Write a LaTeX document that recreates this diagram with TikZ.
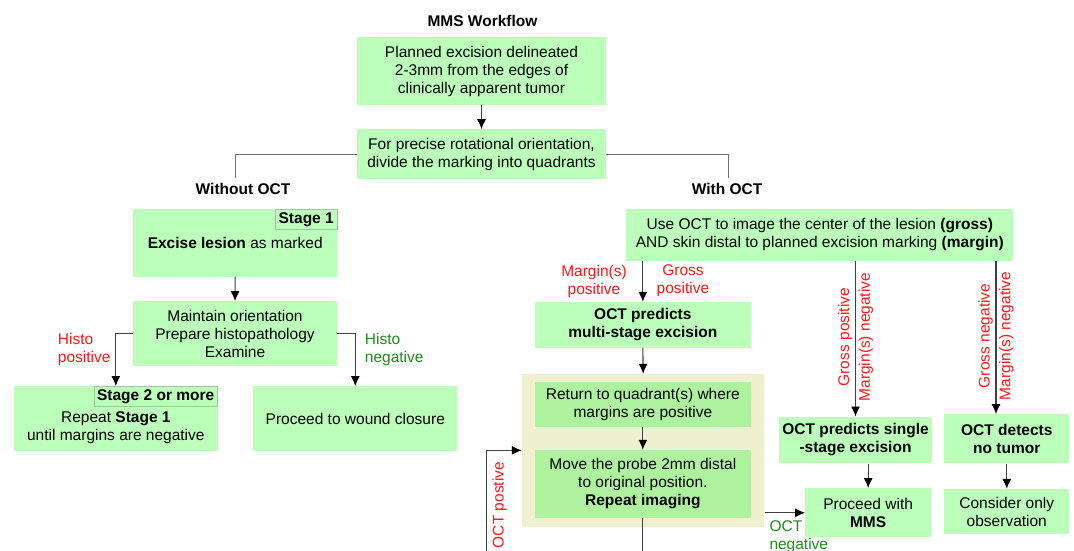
\documentclass[tikz,border=0pt]{standalone}
\usepackage{fontspec}
\setmainfont{Liberation Sans}
\definecolor{VertClairMMS}{HTML}{BBFFBB}
\definecolor{VertMoyenMMS}{HTML}{AEF2A0}
\definecolor{BeigeMMS}{HTML}{EFF0CF}
\definecolor{BordEtapeMMS}{HTML}{9FC79F}
\definecolor{RougeMMS}{HTML}{FF1A1A}
\definecolor{VertFonceMMS}{HTML}{1E8C1E}
\definecolor{GrisTraitMMS}{HTML}{707070}
\usetikzlibrary{arrows.meta}
\usetikzlibrary{calc}
\newcommand{\tailleMMS}{\fontsize{15.5}{18}\selectfont}
\tikzset{
	boite/.style={fill=VertClairMMS, align=center, inner sep=0pt},
	boiteint/.style={fill=VertMoyenMMS, align=center, inner sep=0pt},
	etape/.style={fill=VertClairMMS, draw=BordEtapeMMS, line width=1pt, inner sep=0pt, anchor=north east},
	fleche/.style={->, >={Latex[length=10pt,width=9pt,color=black]}, line width=1.1pt, black!75},
	trait/.style={line width=1pt, GrisTraitMMS},
	rouge/.style={RougeMMS, align=center, inner sep=2.5pt},
	vert/.style={VertFonceMMS, align=left, inner sep=0pt}
}

\begin{document}
\begin{tikzpicture}[x=1pt, y=-1pt, font=\tailleMMS]
	\useasboundingbox[fill=white] (0,0) rectangle (1074,551);
	%
	\node at (482.5,20.7) (titre){\textbf{MMS Workflow}};
	\node[boite, minimum width=249pt, minimum height=67.7pt] at (481.5,71.2) (plan){Planned excision delineated\\2-3mm from the edges of\\clinically apparent tumor};
	\node[boite, minimum width=249pt, minimum height=49.7pt] at (481.5,154.2) (quad){For precise rotational orientation,\\divide the marking into quadrants};
	\node at (243,189) (sans){\textbf{Without OCT}};
	\node at (727,189) (avec){\textbf{With OCT}};
	\coordinate (hautSans) at (235.3,178.3);
	\coordinate (hautAvec) at (728.7,178.3);
	%
	% Sans OCT
	\node[boite, minimum width=204.3pt, minimum height=67.4pt] at (235.2,243) (etape1){\textbf{Excise lesion} as marked};
	\node[etape, minimum width=61.7pt, minimum height=20pt] at (etape1.north east) (tag1){\textbf{Stage 1}};
	\node[boite, minimum width=204pt, minimum height=64.4pt] at (235,333.5) (histo){Maintain orientation\\Prepare histopathology\\Examine};
	\node[boite, minimum width=203.7pt, minimum height=64.7pt] at (115.85,418.65) (etape2){\raisebox{-9.7pt}[\height][\depth]{\begin{tabular}{@{}c@{}}Repeat \textbf{Stage 1}\\until margins are negative\end{tabular}}};
	\node[etape, minimum width=123.4pt, minimum height=19.4pt] at (etape2.north east) (tag2){\textbf{Stage 2 or more}};
	\node[boite, minimum width=204pt, minimum height=64.7pt] at (355.3,418.65) (fermeture){Proceed to wound closure};
	\node[rouge, anchor=west, align=left, inner sep=0pt] at (57.7,349.2) (histopos){Histo\\positive};
	\node[vert, anchor=west] at (364.7,349.2) (histoneg){Histo\\negative};
	%
	% Avec OCT
	\node[boite, minimum width=387pt, minimum height=51.4pt] at (819.8,235) (imageOCT){Use OCT to image the center of the lesion \textbf{(gross)}\\AND skin distal to planned excision marking \textbf{(margin)}};
	\node[boite, minimum width=216.3pt, minimum height=45.7pt] at (642.85,324.85) (multi){\textbf{OCT predicts}\\\textbf{multi-stage excision}};
	\node[rouge] at (594,281) (margepos){Margin(s)\\positive};
	\node[rouge] at (683,281) (grospos){Gross\\positive};
	\node[fill=BeigeMMS, minimum width=242.3pt, minimum height=152.7pt, inner sep=0pt] at (643.15,450.35) (cadre){};
	\node[boiteint, minimum width=216.3pt, minimum height=45pt] at (642.85,404.2) (retour){Return to quadrant(s) where\\margins are positive};
	\node[boiteint, minimum width=216.3pt, minimum height=67.7pt] at (642.85,483.85) (sonde){Move the probe 2mm distal\\to original position.\\\textbf{Repeat imaging}};
	\node[boite, minimum width=152.4pt, minimum height=46.6pt] at (855.5,440) (unique){\textbf{OCT predicts single}\\\textbf{-stage excision}};
	\node[boite, minimum width=125.7pt, minimum height=49pt] at (868.15,512.8) (mms){Proceed with\\\textbf{MMS}};
	\node[boite, minimum width=125pt, minimum height=49pt] at (1006.8,438.8) (tumeur){\textbf{OCT detects}\\\textbf{no tumor}};
	\node[boite, minimum width=125pt, minimum height=45.3pt] at (1006.8,511.65) (observ){Consider only\\observation};
	\node[vert, anchor=west] at (769.3,536.2) (octneg){OCT\\negative};
	\node[rouge, rotate=90] at (499.7,505) (octpos){OCT postive};
	\coordinate (basBoucle) at (486.3,552);
	\coordinate (basSonde) at (642.85,552);
	%
	\draw[trait] (quad.west) -| (hautSans);
	\draw[trait] (quad.east) -| (hautAvec);
	\draw[fleche] (plan.south) -- (quad.north);
	\draw[fleche] (etape1.south) -- (histo.north);
	\draw[fleche] (histo.west) -| (etape2.north);
	\draw[fleche] (histo.east) -| (fermeture.north);
	%
	\draw[fleche] (multi.north |- imageOCT.south) -- (multi.north);
	\draw[fleche] (multi.south) -- (cadre.north);
	\draw[fleche] (retour.south) -- (sonde.north);
	\draw[black!75, line width=1.1pt] (sonde.south) -- (basSonde);
	\draw[fleche] (basBoucle) |- (cadre.west);
	\draw[fleche] (cadre.east |- mms.west) -- (mms.west);
	\draw[fleche] (unique.north |- imageOCT.south) -- node[rouge, pos=0.49, rotate=90, anchor=south]{Gross positive} node[rouge, pos=0.49, rotate=90, anchor=north]{Margin(s) negative} (unique.north);
	\draw[fleche] ([xshift=-10.8pt]tumeur.north |- imageOCT.south) -- node[rouge, pos=0.49, rotate=90, anchor=south]{Gross negative} node[rouge, pos=0.49, rotate=90, anchor=north]{Margin(s) negative} ([xshift=-10.8pt]tumeur.north);
	\draw[fleche] (mms.north |- unique.south) -- (mms.north);
	\draw[fleche] (tumeur.south) -- (observ.north);
	%
\end{tikzpicture}
\end{document}
